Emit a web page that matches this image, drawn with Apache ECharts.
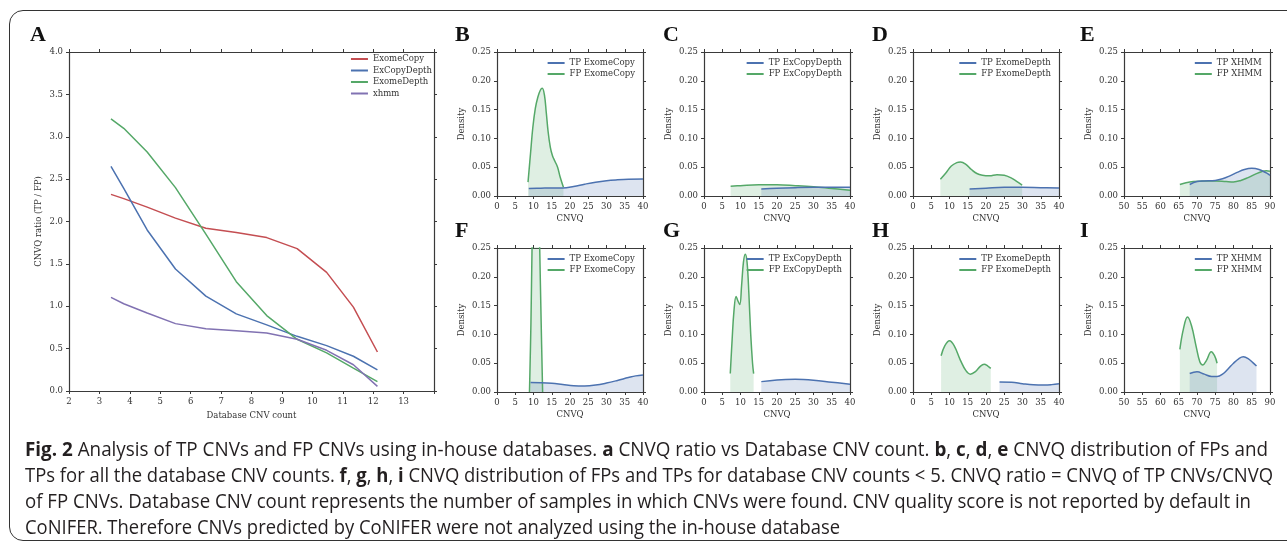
<!DOCTYPE html>
<html>
<head>
<meta charset="utf-8">
<title>Fig. 2 TP / FP CNVQ</title>
<script src="https://cdn.jsdelivr.net/npm/echarts@6/dist/echarts.min.js"></script>
<style>
html, body { margin: 0; padding: 0; background: #fff; }
#wrap { position: relative; width: 1287px; height: 544px; overflow: hidden; }
#chart { position: absolute; left: 0; top: 0; width: 1287px; height: 544px; }
#frame {
  position: absolute; left: 9px; top: 10px; width: 1300px; height: 531px;
  border: 1.5px solid #333; border-radius: 14px; box-sizing: border-box; pointer-events: none;
}
#caption {
  position: absolute; left: 25px; top: 436px; width: max-content;
  font-family: 'Open Sans', 'Noto Sans', sans-serif; font-size: 20px; line-height: 26px;
  color: #231f20; white-space: nowrap;
}
#caption div { width: max-content; transform-origin: 0 0; }
#caption b { font-weight: 700; }
</style>
</head>
<body>
<div id="wrap">
  <div id="chart"></div>
  <div id="frame"></div>
  <div id="caption">
    <div class="cap"><b>Fig. 2</b> Analysis of TP CNVs and FP CNVs using in-house databases. <b>a</b> CNVQ ratio vs Database CNV count. <b>b</b>, <b>c</b>, <b>d</b>, <b>e</b> CNVQ distribution of FPs and</div>
    <div class="cap">TPs for all the database CNV counts. <b>f</b>, <b>g</b>, <b>h</b>, <b>i</b> CNVQ distribution of FPs and TPs for database CNV counts &lt; 5. CNVQ ratio = CNVQ of TP CNVs/CNVQ</div>
    <div class="cap">of FP CNVs. Database CNV count represents the number of samples in which CNVs were found. CNV quality score is not reported by default in</div>
    <div class="cap">CoNIFER. Therefore CNVs predicted by CoNIFER were not analyzed using the in-house database</div>
  </div>
</div>
<script>
// ---- panel A: CNVQ ratio vs database CNV count ----
const countX = [3.38, 3.8, 4.57, 5.5, 6.5, 7.5, 8.5, 9.5, 10.47, 11.35, 12.14];
const exomeCopyRatio = [2.32, 2.27, 2.17, 2.04, 1.92, 1.87, 1.81, 1.68, 1.40, 0.99, 0.46];
const exCopyDepthRatio = [2.65, 2.39, 1.90, 1.44, 1.12, 0.91, 0.78, 0.645, 0.535, 0.41, 0.25];
const exomeDepthRatio = [3.21, 3.10, 2.82, 2.40, 1.85, 1.29, 0.89, 0.61, 0.45, 0.27, 0.11];
const xhmmRatio = [1.105, 1.03, 0.92, 0.795, 0.735, 0.71, 0.685, 0.61, 0.48, 0.31, 0.055];

// ---- density curves [CNVQ, density], all database counts ----
const tpExomeCopyAll = [[8.7, 0.013], [12, 0.0135], [15, 0.014], [18, 0.014], [21, 0.0165], [24, 0.0205], [27, 0.024], [30, 0.0265], [33, 0.028], [36, 0.029], [40, 0.0295]];
const fpExomeCopyAll = [[8.5, 0.024], [9.2, 0.075], [9.8, 0.118], [10.5, 0.152], [11.2, 0.172], [11.9, 0.184], [12.4, 0.187], [13, 0.175], [13.5, 0.145], [14, 0.112], [14.6, 0.085], [15.2, 0.07], [15.9, 0.06], [16.6, 0.05], [17.3, 0.033], [18.2, 0.015]];
const tpExCopyDepthAll = [[15.7, 0.012], [20, 0.0135], [25, 0.0145], [30, 0.015], [35, 0.015], [40, 0.015]];
const fpExCopyDepthAll = [[7.3, 0.017], [10, 0.018], [15, 0.0195], [20, 0.0195], [25, 0.018], [30, 0.016], [35, 0.013], [40, 0.010]];
const tpExomeDepthAll = [[15.5, 0.012], [20, 0.0135], [25, 0.015], [30, 0.015], [35, 0.0145], [40, 0.014]];
const fpExomeDepthAll = [[7.5, 0.029], [9, 0.04], [10.5, 0.052], [12, 0.058], [13, 0.059], [14.5, 0.055], [16, 0.046], [17.5, 0.039], [19, 0.036], [21, 0.035], [23, 0.037], [25, 0.036], [27, 0.031], [28.5, 0.025], [29.9, 0.019]];
const tpXhmmAll = [[68, 0.020], [70, 0.025], [72, 0.026], [75, 0.027], [77, 0.030], [79, 0.035], [81, 0.041], [83, 0.046], [85, 0.048], [87, 0.046], [89, 0.040], [90, 0.036]];
const fpXhmmAll = [[65.3, 0.020], [67, 0.023], [69, 0.025], [72, 0.026], [75, 0.026], [78, 0.025], [80, 0.0245], [82, 0.027], [84, 0.032], [86, 0.038], [88, 0.043], [89, 0.044], [90, 0.043]];

// ---- density curves, database CNV counts < 5 ----
const tpExomeCopyLow = [[9.2, 0.0163], [12, 0.016], [15, 0.015], [18, 0.013], [21, 0.011], [24, 0.0105], [27, 0.012], [30, 0.0155], [33, 0.02], [36, 0.025], [38, 0.028], [40, 0.0295]];
const fpExomeCopyLow = [[8.9, 0.0], [9.3, 0.12], [9.6, 0.25], [10.0, 0.38], [10.7, 0.45], [11.3, 0.38], [11.7, 0.25], [12.1, 0.12], [12.5, 0.0]];
const tpExCopyDepthLow = [[15.7, 0.018], [20, 0.021], [25, 0.022], [30, 0.0205], [35, 0.017], [40, 0.0135]];
const fpExCopyDepthLow = [[7.2, 0.032], [7.7, 0.09], [8.2, 0.14], [8.8, 0.166], [9.3, 0.158], [9.8, 0.152], [10.3, 0.185], [10.8, 0.225], [11.3, 0.239], [11.8, 0.225], [12.3, 0.17], [12.8, 0.10], [13.3, 0.05], [13.6, 0.032]];
const tpExomeDepthLow = [[23.7, 0.0174], [27, 0.017], [30, 0.0145], [33, 0.0125], [36, 0.012], [38, 0.0128], [40, 0.0145]];
const fpExomeDepthLow = [[7.7, 0.063], [8.7, 0.08], [10, 0.089], [11.3, 0.08], [13, 0.055], [14.5, 0.037], [15.7, 0.031], [17, 0.035], [18.5, 0.045], [19.5, 0.048], [20.5, 0.045], [21.3, 0.041]];
const tpXhmmLow = [[68, 0.032], [70, 0.035], [72, 0.031], [74, 0.027], [75.5, 0.027], [77, 0.031], [78.5, 0.04], [80, 0.05], [81.5, 0.058], [82.7, 0.061], [84, 0.058], [85.3, 0.051], [86.3, 0.045]];
const fpXhmmLow = [[65.3, 0.074], [66.3, 0.11], [67.4, 0.13], [68.5, 0.115], [69.8, 0.078], [70.8, 0.052], [71.6, 0.047], [72.6, 0.055], [73.9, 0.07], [74.8, 0.063], [75.5, 0.05]];

const SERIF = 'DejaVu Serif';
const AXIS = '#3a3a3a';
const TEXT = '#333';
const BLUE = '#4c72b0';
const GREEN = '#55a868';
const RED = '#c44e52';
const PURPLE = '#8172b2';

const chart = echarts.init(document.getElementById('chart'));

const grids = [];
const xAxes = [];
const yAxes = [];
const series = [];
const legends = [];
const labels = [];

// 坐标轴：下/左带刻度文字，上/右只画刻度（仿 matplotlib 四周外刻度）
function addAxes(g, xOpt, yOpt) {
  const line = { onZero: false, lineStyle: { color: AXIS, width: 1.2 } };
  const tick = { inside: false, length: 3, lineStyle: { color: AXIS, width: 1 } };
  const lab = { fontFamily: SERIF, fontSize: 8.5, color: TEXT };
  xAxes.push({
    type: 'value', gridIndex: g, position: 'bottom', min: xOpt.min, max: xOpt.max, interval: xOpt.interval,
    axisLine: line, axisTick: tick, splitLine: { show: false },
    axisLabel: Object.assign({ margin: 6, formatter: xOpt.formatter }, lab),
    name: xOpt.name, nameLocation: 'middle', nameGap: 18,
    nameTextStyle: { fontFamily: SERIF, fontSize: 8.5, color: TEXT }
  });
  xAxes.push({
    type: 'value', gridIndex: g, position: 'top', min: xOpt.min, max: xOpt.max, interval: xOpt.interval,
    axisLine: line, axisTick: tick, splitLine: { show: false }, axisLabel: { show: false }
  });
  yAxes.push({
    type: 'value', gridIndex: g, position: 'left', min: yOpt.min, max: yOpt.max, interval: yOpt.interval,
    axisLine: line, axisTick: tick, splitLine: { show: false },
    axisLabel: Object.assign({ margin: 6, formatter: yOpt.formatter }, lab),
    name: yOpt.name, nameLocation: 'middle', nameGap: yOpt.nameGap,
    nameTextStyle: { fontFamily: SERIF, fontSize: 8.5, color: TEXT }
  });
  yAxes.push({
    type: 'value', gridIndex: g, position: 'right', min: yOpt.min, max: yOpt.max, interval: yOpt.interval,
    axisLine: line, axisTick: tick, splitLine: { show: false }, axisLabel: { show: false }
  });
}

function legendAt(names, right, top, gap) {
  return {
    data: names, orient: 'vertical', right: right, top: top, padding: 0,
    icon: 'rect', itemWidth: 17, itemHeight: 2, itemGap: gap, selectedMode: false,
    textStyle: { fontFamily: SERIF, fontSize: 8.5, color: TEXT, lineHeight: 10 }
  };
}

function panelLabel(text, x, y) {
  return {
    type: 'text', left: x, top: y,
    style: { text: text, fontFamily: 'Liberation Serif', fontWeight: 'bold', fontSize: 22, fill: '#111' }
  };
}

// ---- panel A ----
const A = { left: 69, top: 52, width: 365, height: 339 };
grids.push(A);
addAxes(0,
  { min: 2, max: 14, interval: 1, name: 'Database CNV count', formatter: v => (v === 14 ? '' : v) },
  { min: 0, max: 4, interval: 0.5, name: 'CNVQ ratio (TP / FP)', nameGap: 26, formatter: v => v.toFixed(1) });
const ratioSeries = [
  ['ExomeCopy', exomeCopyRatio, RED],
  ['ExCopyDepth', exCopyDepthRatio, BLUE],
  ['ExomeDepth', exomeDepthRatio, GREEN],
  ['xhmm', xhmmRatio, PURPLE]
];
ratioSeries.forEach(([name, vals, color]) => {
  series.push({
    type: 'line', name: name, xAxisIndex: 0, yAxisIndex: 0,
    data: countX.map((x, i) => [x, vals[i]]),
    showSymbol: false, lineStyle: { width: 1.5, color: color }, itemStyle: { color: color }
  });
});
legends.push(legendAt(ratioSeries.map(s => s[0]), 1287 - 432, 54, 1.5));
labels.push(panelLabel('A', 30, 24));

// ---- density panels B-I ----
const colLeft = [497, 704, 913, 1124];
const rowTop = [52, 248];
const PW = 146, PH = 144;
const densityPanels = [
  { label: 'B', col: 0, row: 0, tool: 'ExomeCopy', xMin: 0, tp: tpExomeCopyAll, fp: fpExomeCopyAll },
  { label: 'C', col: 1, row: 0, tool: 'ExCopyDepth', xMin: 0, tp: tpExCopyDepthAll, fp: fpExCopyDepthAll },
  { label: 'D', col: 2, row: 0, tool: 'ExomeDepth', xMin: 0, tp: tpExomeDepthAll, fp: fpExomeDepthAll },
  { label: 'E', col: 3, row: 0, tool: 'XHMM', xMin: 50, tp: tpXhmmAll, fp: fpXhmmAll },
  { label: 'F', col: 0, row: 1, tool: 'ExomeCopy', xMin: 0, tp: tpExomeCopyLow, fp: fpExomeCopyLow },
  { label: 'G', col: 1, row: 1, tool: 'ExCopyDepth', xMin: 0, tp: tpExCopyDepthLow, fp: fpExCopyDepthLow },
  { label: 'H', col: 2, row: 1, tool: 'ExomeDepth', xMin: 0, tp: tpExomeDepthLow, fp: fpExomeDepthLow },
  { label: 'I', col: 3, row: 1, tool: 'XHMM', xMin: 50, tp: tpXhmmLow, fp: fpXhmmLow }
];

densityPanels.forEach((p, k) => {
  const g = k + 1;
  const left = colLeft[p.col];
  const top = rowTop[p.row];
  grids.push({ left: left, top: top, width: PW, height: PH });
  addAxes(g,
    { min: p.xMin, max: p.xMin + 40, interval: 5, name: 'CNVQ' },
    { min: 0, max: 0.25, interval: 0.05, name: 'Density', nameGap: 31, formatter: v => v.toFixed(2) });
  const tpName = 'TP ' + p.tool;
  const fpName = 'FP ' + p.tool;
  series.push({
    type: 'line', name: fpName, xAxisIndex: 2 * g, yAxisIndex: 2 * g, data: p.fp,
    smooth: 0.4, showSymbol: false, clip: true,
    lineStyle: { width: 1.5, color: GREEN }, itemStyle: { color: GREEN },
    areaStyle: { color: 'rgba(85,168,104,0.27)', origin: 'start' }
  });
  series.push({
    type: 'line', name: tpName, xAxisIndex: 2 * g, yAxisIndex: 2 * g, data: p.tp,
    smooth: 0.4, showSymbol: false, clip: true,
    lineStyle: { width: 1.5, color: BLUE }, itemStyle: { color: BLUE },
    areaStyle: { color: 'rgba(76,114,176,0.27)', origin: 'start' }
  });
  legends.push(legendAt([tpName, fpName], 1287 - (left + PW - 8), top + 6, 1));
  labels.push(panelLabel(p.label, [455, 663, 872, 1080][p.col], p.row === 0 ? 24 : 220));
});

chart.setOption({
  animation: false,
  backgroundColor: '#fff',
  grid: grids,
  xAxis: xAxes,
  yAxis: yAxes,
  legend: legends,
  graphic: labels,
  series: series
});

// 标题每行按参考宽度压缩成窄体
const captionWidths = [1243, 1248, 1226, 815];
function fitCaption() {
  document.querySelectorAll('#caption .cap').forEach((el, i) => {
    el.style.transform = 'none';
    const w = el.getBoundingClientRect().width;
    el.style.transform = 'scaleX(' + (captionWidths[i] / w) + ')';
  });
}
fitCaption();
if (document.fonts && document.fonts.ready) {
  document.fonts.ready.then(fitCaption);
}
</script>
</body>
</html>
